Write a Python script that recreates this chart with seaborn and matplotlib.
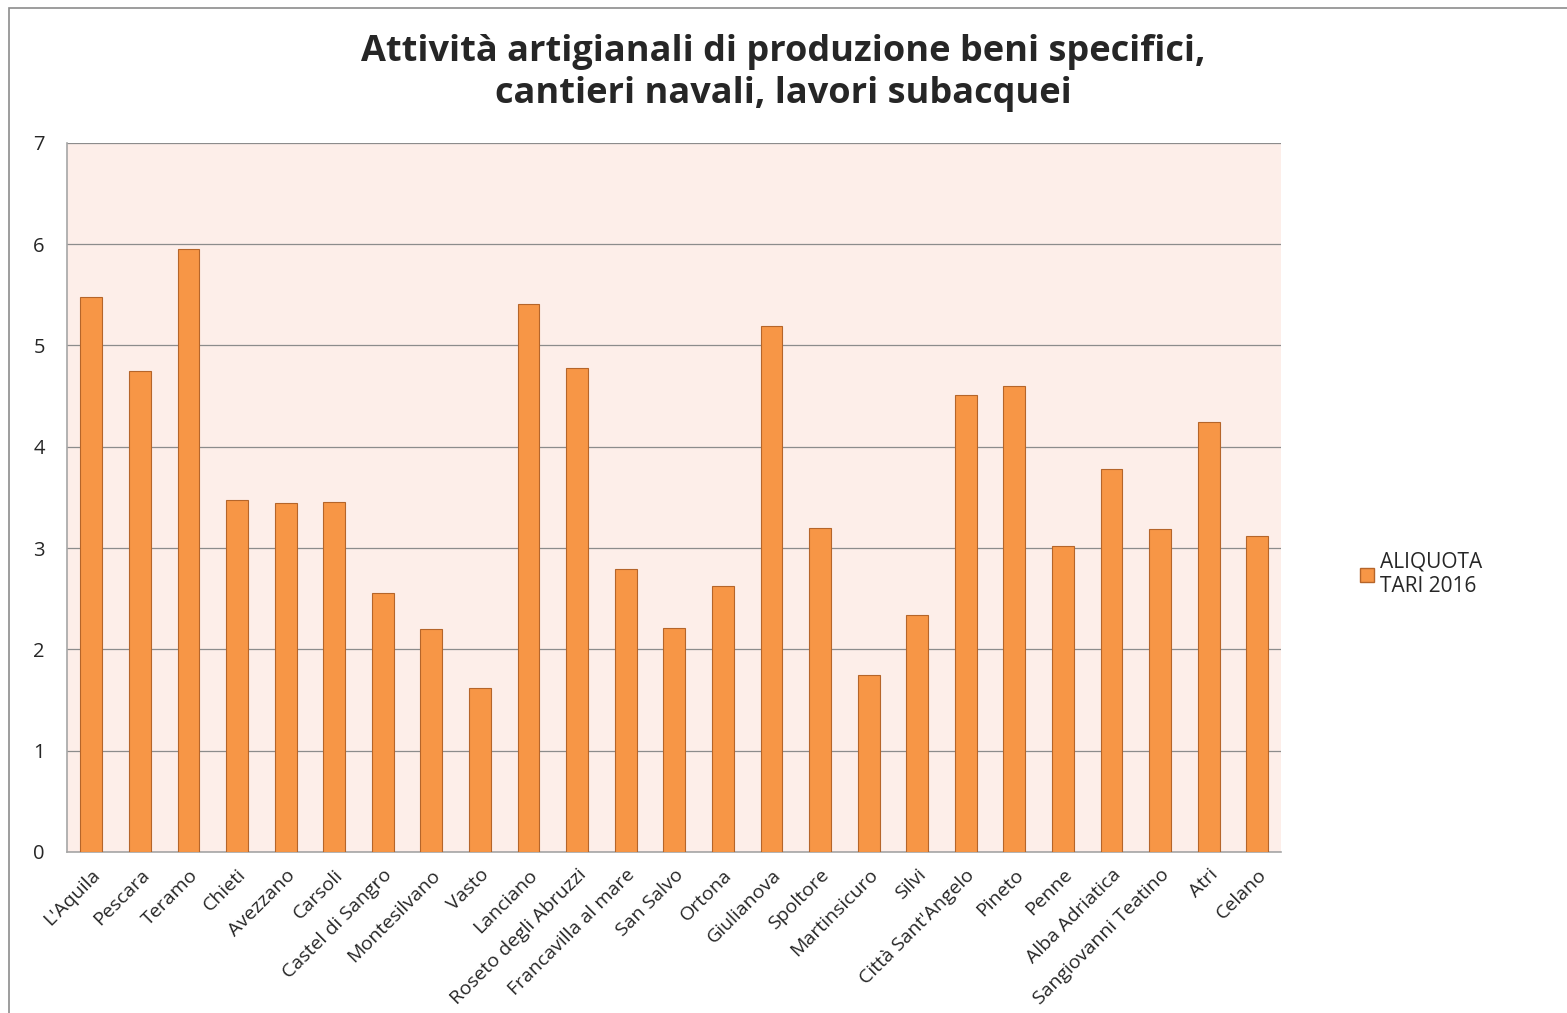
import numpy as np
import pandas as pd
import seaborn as sns
import matplotlib.pyplot as plt
from matplotlib.patches import Patch, Rectangle

comuni = ["L'Aquila", 'Pescara', 'Teramo', 'Chieti', 'Avezzano', 'Carsoli',
          'Castel di Sangro', 'Montesilvano', 'Vasto', 'Lanciano',
          'Roseto degli Abruzzi', 'Francavilla al mare', 'San Salvo', 'Ortona',
          'Giulianova', 'Spoltore', 'Martinsicuro', 'Silvi',
          "Città Sant'Angelo", 'Pineto', 'Penne', 'Alba Adriatica',
          'Sangiovanni Teatino', 'Atri', 'Celano']
aliquota = [5.48, 4.75, 5.95, 3.47, 3.44, 3.45, 2.56, 2.20, 1.62, 5.41,
            4.78, 2.79, 2.21, 2.63, 5.19, 3.20, 1.75, 2.34, 4.51, 4.60,
            3.02, 3.78, 3.19, 4.24, 3.12]
serie = 'ALIQUOTA\nTARI 2016'
titolo = 'Attività artigianali di produzione beni specifici,\ncantieri navali, lavori subacquei'

df = pd.DataFrame({'comune': comuni, 'aliquota': aliquota})

sns.set_style('white')
plt.rcParams['font.family'] = ['Open Sans', 'DejaVu Sans']

fig = plt.figure(figsize=(15.67, 10.13), dpi=100)
ax = fig.add_axes([0.0428, 0.159, 0.775, 0.7])

bar_col = '#F79646'
sns.barplot(data=df, x='comune', y='aliquota', color=bar_col, width=0.45,
            edgecolor='#B5652A', linewidth=0.8, saturation=1, ax=ax, zorder=3)

ax.set_facecolor('#FDEEE9')
ax.set_ylim(0, 7)
ax.set_xlim(-0.5, len(comuni) - 0.5)
ax.set_yticks(range(0, 8))
ax.yaxis.grid(True, color='#8C8C8C', linewidth=0.9, zorder=0)
ax.set_axisbelow(True)
ax.set_xlabel('')
ax.set_ylabel('')

for s in ['top', 'right']:
    ax.spines[s].set_visible(False)
for s in ['left', 'bottom']:
    ax.spines[s].set_color('#A6A6A6')
    ax.spines[s].set_linewidth(1.2)

ax.set_xticks(np.arange(len(comuni)))
ax.set_xticklabels(comuni, rotation=45, ha='right', rotation_mode='anchor')
ax.set_xticks(np.arange(-0.5, len(comuni)), minor=True)
ax.tick_params(axis='x', which='major', length=0, labelsize=14, pad=10)
ax.tick_params(axis='x', which='minor', length=6, color='#A6A6A6', direction='out')
ax.tick_params(axis='y', length=6, color='#A6A6A6', direction='out', labelsize=14.5, pad=10)

fig.suptitle(titolo, fontsize=26, fontweight='bold', y=0.966, linespacing=1.2)

handles = [Patch(facecolor=bar_col, edgecolor='#B5652A', label=serie)]
fig.legend(handles=handles, loc='center left', bbox_to_anchor=(0.856, 0.433),
           frameon=False, fontsize=15, handlelength=0.65, handleheight=0.65,
           handletextpad=0.3)

fig.patches.append(Rectangle((0.006, -0.01), 1.0, 1.002, transform=fig.transFigure,
                             fill=False, edgecolor='#8C8C8C', linewidth=1.2))

fig.savefig('out.png', dpi=100)
